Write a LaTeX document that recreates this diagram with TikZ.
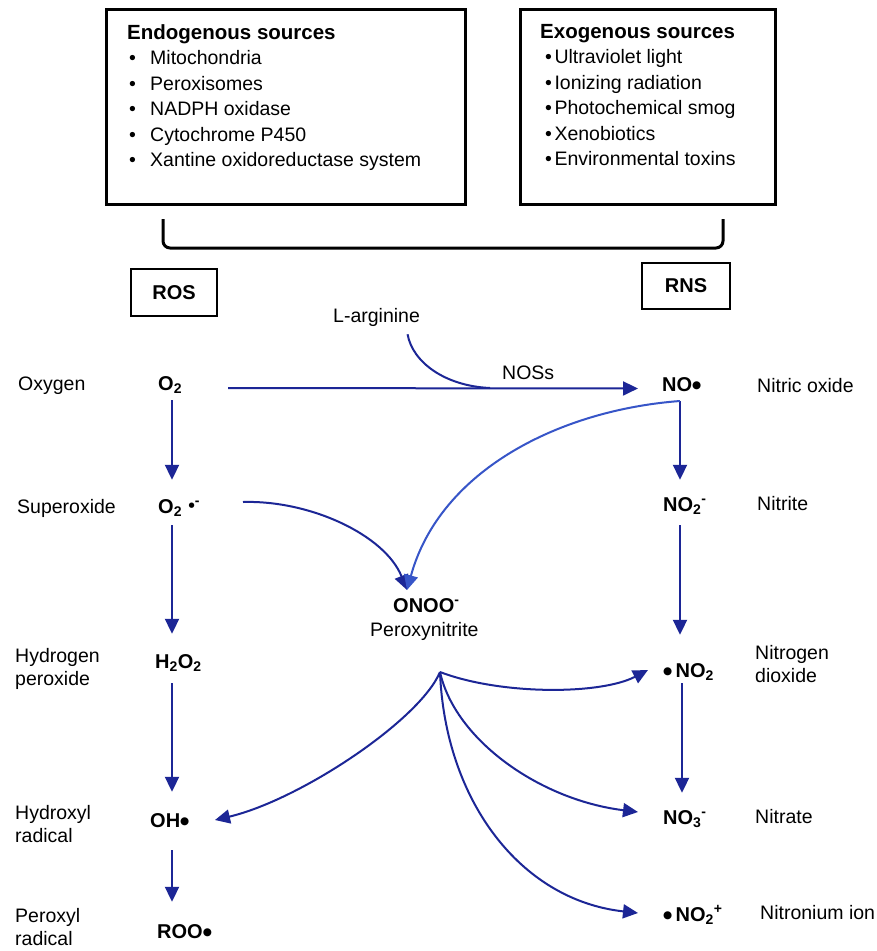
\documentclass[tikz,border=0pt]{standalone}
\usepackage{fontspec}
\setmainfont{Liberation Sans}
\newfontfamily\dvfont{DejaVu Sans}
\usetikzlibrary{arrows.meta,calc}
\definecolor{arrblue}{RGB}{28,38,150}
\definecolor{lblue}{RGB}{55,85,200}
\newcommand{\rdot}{\raisebox{2.5pt}{\dvfont\fontsize{10.5}{10.5}\selectfont ●}}
\newcommand{\sdot}{\raisebox{5.5pt}{\dvfont\fontsize{7}{7}\selectfont ●}}
\begin{document}
\begin{tikzpicture}[x=1pt,y=-1pt,
  lab/.style={font=\fontsize{19.5}{23}\selectfont, inner sep=0pt, align=left},
  chem/.style={font=\fontsize{20}{24}\selectfont\bfseries, inner sep=0pt, text height=15pt, text depth=4pt, anchor=base west},
  arr/.style={draw=arrblue, line width=2pt, -{Triangle[length=15pt,width=14pt]}},
  ln/.style={draw=arrblue, line width=2pt},
  bigbox/.style={draw, line width=3pt, inner sep=0pt, anchor=north west},
  smallbox/.style={draw, line width=2.5pt, inner sep=0pt, font=\fontsize{20}{24}\selectfont\bfseries},
  boxtext/.style={anchor=north west, inner sep=0pt, align=left, font=\fontsize{19.5}{25.5}\selectfont}]
\fill[white] (0,0) rectangle (877,951);
\useasboundingbox (0,0) rectangle (877,951);

% source boxes
\node[bigbox, minimum width=359pt, minimum height=195pt] (endo) at (105,8) {};
\node[bigbox, minimum width=255pt, minimum height=195pt] (exo) at (519,8) {};
\node[boxtext] (endotxt) at (127,24) {{\bfseries\fontsize{20.5}{25.5}\selectfont Endogenous sources}\\
  \hspace*{2pt}\makebox[21pt][l]{•}Mitochondria\\
  \hspace*{2pt}\makebox[21pt][l]{•}Peroxisomes\\
  \hspace*{2pt}\makebox[21pt][l]{•}NADPH oxidase\\
  \hspace*{2pt}\makebox[21pt][l]{•}Cytochrome P450\\
  \hspace*{2pt}\makebox[21pt][l]{•}Xantine oxidoreductase system};
\node[boxtext] (exotxt) at (540,24) {{\bfseries\fontsize{20.5}{25.5}\selectfont Exogenous sources}\\
  \hspace*{5pt}•\hspace{2.5pt}Ultraviolet light\\
  \hspace*{5pt}•\hspace{2.5pt}Ionizing radiation\\
  \hspace*{5pt}•\hspace{2.5pt}Photochemical smog\\
  \hspace*{5pt}•\hspace{2.5pt}Xenobiotics\\
  \hspace*{5pt}•\hspace{2.5pt}Environmental toxins};

% bracket
\coordinate (brL) at (163,219);
\coordinate (brR) at (723,219);
\coordinate (brB) at (443,248);
\draw[line width=3pt, rounded corners=7pt] (brL) |- (brB) -| (brR);

% ROS / RNS
\node[smallbox, minimum width=86pt, minimum height=47pt] (ros) at (174,292.5) {ROS};
\node[smallbox, minimum width=88pt, minimum height=46pt] (rns) at (686,286) {RNS};

% left labels
\node[lab, anchor=base west] (oxy) at (18,390) {Oxygen};
\node[lab, anchor=base west] (supl) at (17,513) {Superoxide};
\node[lab, anchor=north west] (hpl) at (15,648) {Hydrogen\\peroxide};
\node[lab, anchor=north west] (hyl) at (15,805) {Hydroxyl\\radical};
\node[lab, anchor=north west] (pel) at (15,908) {Peroxyl\\radical};
% right labels
\node[lab, anchor=base west] (nol) at (757,392) {Nitric oxide};
\node[lab, anchor=base west] (nitl) at (757,510) {Nitrite};
\node[lab, anchor=north west] (ndl) at (755,645) {Nitrogen\\dioxide};
\node[lab, anchor=base west] (natl) at (755,823) {Nitrate};
\node[lab, anchor=base west] (nil) at (760,919) {Nitronium ion};

% species
\node[chem] (o2) at (158,390) {O\textsubscript{2}};
\node[chem] (sup) at (158,513) {O\textsubscript{2}\,\,\sdot\textsuperscript{-}};
\node[chem] (h2o2) at (155,668) {H\textsubscript{2}O\textsubscript{2}};
\node[chem] (oh) at (150,827) {OH\rdot};
\node[chem] (roo) at (157,938) {ROO\rdot};
\node[chem] (no) at (662,391) {NO\rdot};
\node[chem] (no2m) at (663,511) {NO\textsubscript{2}\textsuperscript{-}};
\node[chem] (no2) at (663,677) {\rdot\,NO\textsubscript{2}};
\node[chem] (no3) at (663,824) {NO\textsubscript{3}\textsuperscript{-}};
\node[chem] (no2p) at (663,921) {\rdot\,NO\textsubscript{2}\textsuperscript{+}};
\node[chem] (onoo) at (393,612) {ONOO\textsuperscript{-}};
\node[lab, anchor=base west] (perox) at (370,636) {Peroxynitrite};
\node[lab, anchor=base west] (larg) at (333,322) {L-arginine};
\node[lab, anchor=base west] (nos) at (502,379) {NOSs};

% columns
\coordinate (colL) at (172,0);
\coordinate (colR) at (680,0);
\coordinate (colR2) at (682,0);

% vertical arrows
\draw[arr, shorten <=6pt, shorten >=18pt] (o2.south -| colL) -- (sup.north -| colL);
\draw[arr, shorten <=8pt, shorten >=19pt] (sup.south -| colL) -- (h2o2.north -| colL);
\draw[arr, shorten <=11pt, shorten >=20pt] (h2o2.south -| colL) -- (oh.north -| colL);
\draw[arr, shorten <=19pt, shorten >=21pt] (oh.south -| colL) -- (roo.north -| colL);
\draw[arr, shorten <=6pt, shorten >=16pt] (no.south -| colR) -- (no2m.north -| colR);
\draw[arr, shorten <=10pt, shorten >=27pt] (no2m.south -| colR) -- (no2.north -| colR);
\draw[arr, shorten <=2pt, shorten >=16pt] (no2.south -| colR2) -- (no3.north -| colR2);

% O2 -> NO
\draw[arr, shorten <=46pt, shorten >=24pt] ([yshift=-3.5pt]o2.east) -- ([yshift=-3pt]no.west);
% L-arginine joining
\coordinate (nosm) at (490,388);
\draw[ln] ($(larg.south)+(31,8)$) .. controls +(5,28) and +(-45,-2) .. (nosm);

% to peroxynitrite
\draw[arr] ($(sup.west)+(85,-5.5)$) .. controls +(67,-2) and +(-22,-55) .. ($(onoo.west)+(14,-16.5)$);
\draw[arr, draw=lblue] ($(no.west)+(18,15.5)$) .. controls +(-120,9) and +(33,-120) .. ($(onoo.west)+(14,-16.5)$);

% branches from peroxynitrite
\coordinate (brn) at (440,672);
\draw[arr] (brn) .. controls (500,695) and (600,695) .. ($(no2.west)+(-15,-1.5)$);
\draw[arr] (brn) .. controls (420,720) and (300,800) .. ($(oh.west)+(65,-1.5)$);
\draw[arr] (brn) .. controls (455,740) and (540,800) .. ($(no3.west)+(-25,-6.5)$);
\draw[arr] (brn) .. controls (445,800) and (520,900) .. ($(no2p.west)+(-25,-2.5)$);
\end{tikzpicture}
\end{document}
